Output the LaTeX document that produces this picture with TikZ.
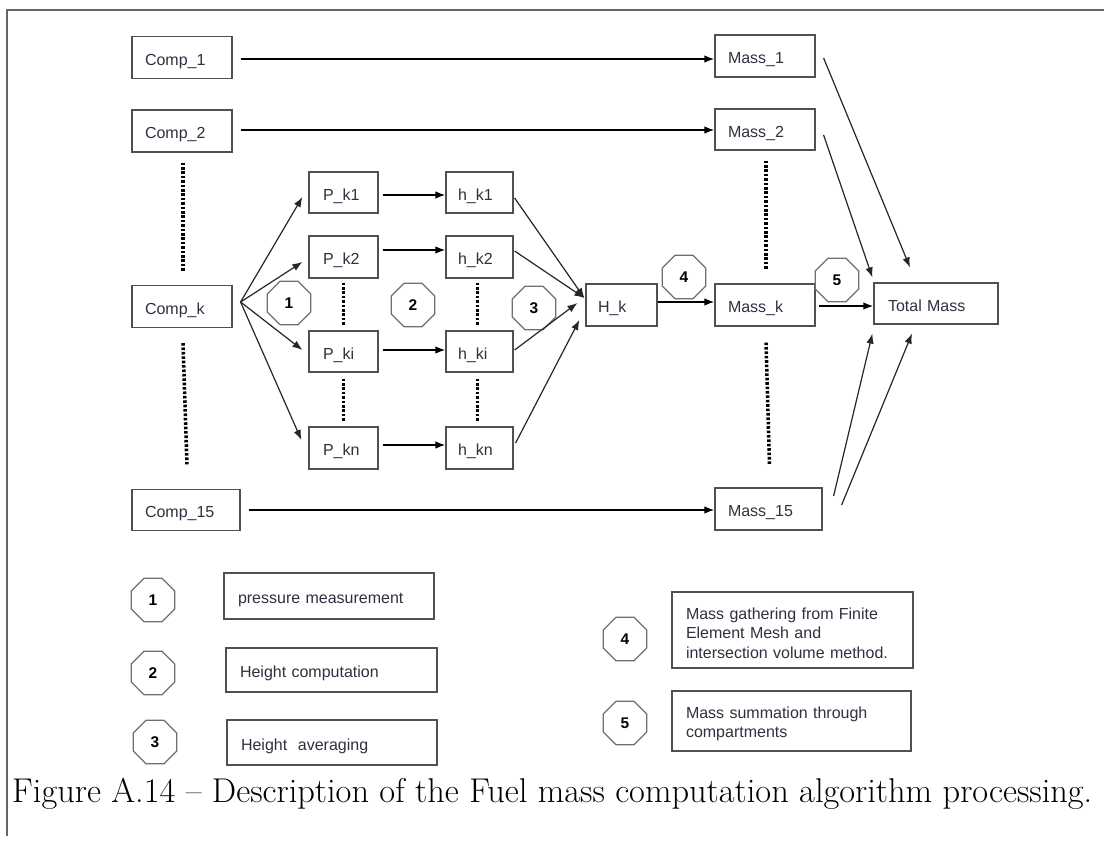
\documentclass[tikz,border=0pt]{standalone}
\usepackage{fontspec}
\newfontfamily\arial{Liberation Sans}
\usetikzlibrary{arrows.meta,shapes.geometric,calc}
\definecolor{boxline}{HTML}{505050}
\definecolor{octline}{HTML}{707070}
\definecolor{txt}{HTML}{303040}
% single text line with fixed height and no depth, so caps sit centred
\newcommand\oneline[1]{\raisebox{0pt}[15pt][0pt]{#1}}
\begin{document}
\begin{tikzpicture}[x=1pt,y=-1pt,
  box/.style={draw=boxline, line width=1.2pt, text=txt, align=left,
    inner xsep=13pt, inner ysep=0pt,
    font=\arial\fontsize{16}{19.5}\selectfont},
  oct/.style={draw=octline, line width=1.2pt, regular polygon, regular polygon sides=8,
    minimum size=47pt, inner sep=0pt, font=\arial\bfseries\fontsize{15.5}{18}\selectfont},
  arr/.style={draw=black, line width=1.6pt, -{Latex[length=10pt,width=7.5pt]}},
  thin arr/.style={draw=black!85, line width=1.2pt, -{Latex[length=10pt,width=7.5pt]}},
  dotline/.style={draw=black, line width=3.5pt, dash pattern=on 2.6pt off 1.8pt}]
\useasboundingbox (0,0) rectangle (1104,841);
\fill[white] (0,0) rectangle (1104,841);

% outer frame
\draw[draw=black!60, line width=2pt] (7,836) -- (7,10) -- (1104,10);

% compartments column
\node[box, text width=74pt, minimum height=42pt] (c1) at (182,57.5) {\oneline{Comp\_1}};
\node[box, text width=74pt, minimum height=42pt] (c2) at (182,131) {\oneline{Comp\_2}};
\node[box, text width=74pt, minimum height=42pt] (ck) at (182,306.5) {\oneline{Comp\_k}};
\node[box, text width=82pt, minimum height=41pt] (c15) at (186,510) {\oneline{Comp\_15}};

% mass column
\node[box, text width=74pt, minimum height=42pt] (m1) at (765,56) {\oneline{Mass\_1}};
\node[box, text width=74pt, minimum height=41pt] (m2) at (765,129.5) {\oneline{Mass\_2}};
\node[box, text width=74pt, minimum height=42pt] (mk) at (765,305) {\oneline{Mass\_k}};
\node[box, text width=81pt, minimum height=42pt] (m15) at (768.5,509) {\oneline{Mass\_15}};
\node[box, inner xsep=14pt, text width=96pt, minimum height=41pt] (tot) at (936,303.5) {\oneline{Total Mass}};

% pressure / height boxes
\node[box, inner xsep=12pt, text width=47pt, minimum height=42pt] (Hk) at (621.5,305) {\oneline{H\_k}};
\node[box, inner xsep=14pt, text width=41pt, minimum height=41pt] (pk1) at (343.5,192.5) {\oneline{P\_k1}};
\node[box, inner xsep=14pt, text width=41pt, minimum height=42pt] (pk2) at (343.5,257) {\oneline{P\_k2}};
\node[box, inner xsep=14pt, text width=41pt, minimum height=41pt] (pki) at (343.5,351.5) {\oneline{P\_ki}};
\node[box, inner xsep=14pt, text width=41pt, minimum height=42pt] (pkn) at (343.5,448) {\oneline{P\_kn}};
\node[box, inner xsep=12pt, text width=43pt, minimum height=41pt] (hk1) at (479.5,192.5) {\oneline{h\_k1}};
\node[box, inner xsep=12pt, text width=43pt, minimum height=42pt] (hk2) at (479.5,257) {\oneline{h\_k2}};
\node[box, inner xsep=12pt, text width=43pt, minimum height=41pt] (hki) at (479.5,351.5) {\oneline{h\_ki}};
\node[box, inner xsep=12pt, text width=43pt, minimum height=42pt] (hkn) at (479.5,448) {\oneline{h\_kn}};

% step markers
\node[oct] (o1) at (289,303) {1};
\node[oct] (o2) at (413,305) {2};
\node[oct] (o3) at (534,308) {3};
\node[oct] (o4) at (684,277) {4};
\node[oct] (o5) at (837,280) {5};

% ellipsis dots
\draw[dotline] ([xshift=1pt,yshift=-10pt]c2.south) -- ([xshift=1pt,yshift=13pt]ck.north);
\draw[dotline] ([xshift=1pt,yshift=-15pt]ck.south) -- ([xshift=1pt,yshift=23pt]c15.north);
\draw[dotline] ([xshift=1pt,yshift=-10pt]m2.south) -- ([xshift=1pt,yshift=13pt]mk.north);
\draw[dotline] ([xshift=1pt,yshift=-16pt]mk.south) -- ([xshift=1pt,yshift=22pt]m15.north);
\draw[dotline] ([yshift=-4pt]pk2.south) -- ([yshift=5pt]pki.north);
\draw[dotline] ([yshift=-6pt]pki.south) -- ([yshift=4pt]pkn.north);
\draw[dotline] ([xshift=-2pt,yshift=-4pt]hk2.south) -- ([xshift=-2pt,yshift=5pt]hki.north);
\draw[dotline] ([xshift=-2pt,yshift=-6pt]hki.south) -- ([xshift=-2pt,yshift=4pt]hkn.north);

% direct compartment to mass arrows
\draw[arr, shorten <=8pt] ([yshift=-1.5pt]c1.east) -- ([yshift=-1.5pt]c1.east -| m1.west);
\draw[arr, shorten <=8pt] ([yshift=1pt]c2.east) -- ([yshift=1pt]c2.east -| m2.west);
\draw[arr, shorten <=8pt] (c15.east) -- (c15.east -| m15.west);

% fan out of Comp_k
\coordinate (fan) at ([xshift=8pt,yshift=4.5pt]ck.east);
\draw[thin arr] (fan) -- ([xshift=-6pt,yshift=-4.5pt]pk1.west);
\draw[thin arr] (fan) -- ([xshift=-6pt,yshift=-5pt]pk2.west);
\draw[thin arr] (fan) -- ([xshift=-6pt,yshift=1.5pt]pki.west);
\draw[thin arr] (fan) -- ([xshift=-7pt,yshift=8pt]pkn.west);

% pressure to height
\draw[arr, shorten <=4pt] ([yshift=-2.5pt]pk1.east) -- ([yshift=-2.5pt]pk1.east -| hk1.west);
\draw[arr, shorten <=4pt] ([yshift=7pt]pk2.east) -- ([yshift=7pt]pk2.east -| hk2.west);
\draw[arr, shorten <=4pt] ([yshift=1.5pt]pki.east) -- ([yshift=1.5pt]pki.east -| hki.west);
\draw[arr, shorten <=4pt] ([yshift=3pt]pkn.east) -- ([yshift=3pt]pkn.east -| hkn.west);

% heights to averaged height
\draw[thin arr] ([xshift=1pt,yshift=-5.5pt]hk1.east) -- ([xshift=-1pt,yshift=7pt]Hk.west);
\draw[thin arr] ([xshift=1pt,yshift=6pt]hk2.east) -- ([xshift=-1pt,yshift=7pt]Hk.west);
\draw[thin arr] ([xshift=1pt,yshift=1.5pt]hki.east) -- ([xshift=-8pt,yshift=2pt]Hk.west);
\draw[thin arr] ([xshift=2pt,yshift=5pt]hkn.east) -- ([xshift=-6pt,yshift=-15pt]Hk.west);

% averaged height to mass and mass to total
\draw[arr] ([yshift=3pt]Hk.east) -- ([yshift=3pt]Hk.east -| mk.west);
\draw[arr, shorten <=3pt] ([yshift=-1pt]mk.east) -- ([yshift=-1pt]mk.east -| tot.west);

% summation arrows into Total Mass
\coordinate (s1) at ([xshift=8pt,yshift=-2pt]m1.east);
\coordinate (s2) at ([xshift=8pt,yshift=-5.5pt]m2.east);
\coordinate (s15a) at ([xshift=11pt,yshift=13pt]m15.east);
\coordinate (s15b) at ([xshift=19pt,yshift=4pt]m15.east);
\draw[thin arr] (s1) -- ([xshift=-26pt,yshift=15pt]tot.north);
\draw[thin arr] (s2) -- ([xshift=-1pt,yshift=5pt]tot.north west);
\draw[thin arr] (s15a) -- ([xshift=-1pt,yshift=-9pt]tot.south west);
\draw[thin arr] (s15b) -- ([xshift=-24pt,yshift=-9pt]tot.south);

% legend
\node[oct] (q1) at (153,600) {1};
\node[oct] (q2) at (153,673) {2};
\node[oct] (q3) at (155,742) {3};
\node[oct] (q4) at (625,639) {4};
\node[oct] (q5) at (625,723) {5};
\node[box, inner xsep=14pt, text width=182pt, minimum height=46pt] (d1) at (329,596) {\oneline{pressure measurement}};
\node[box, inner xsep=14pt, text width=183pt, minimum height=44pt] (d2) at (331.5,670) {\oneline{Height computation}};
\node[box, inner xsep=14pt, text width=182pt, minimum height=45pt] (d3) at (332,742.5) {\oneline{Height\ \ averaging}};
\node[box, inner xsep=14pt, text width=213pt, minimum height=76pt] (d4) at (792.5,630)
  {\rule{0pt}{18pt}Mass gathering from Finite\\Element Mesh and\\intersection volume method.};
\node[box, inner xsep=14pt, text width=211pt, minimum height=60pt] (d5) at (791.5,721)
  {\rule{0pt}{17pt}Mass summation through\\compartments};

% caption
\node[anchor=base west, inner sep=0pt, font=\fontsize{34.4}{40}\selectfont] (cap) at (12,802)
  {Figure A.14 -- Description of the Fuel mass computation algorithm processing.};
\end{tikzpicture}
\end{document}
